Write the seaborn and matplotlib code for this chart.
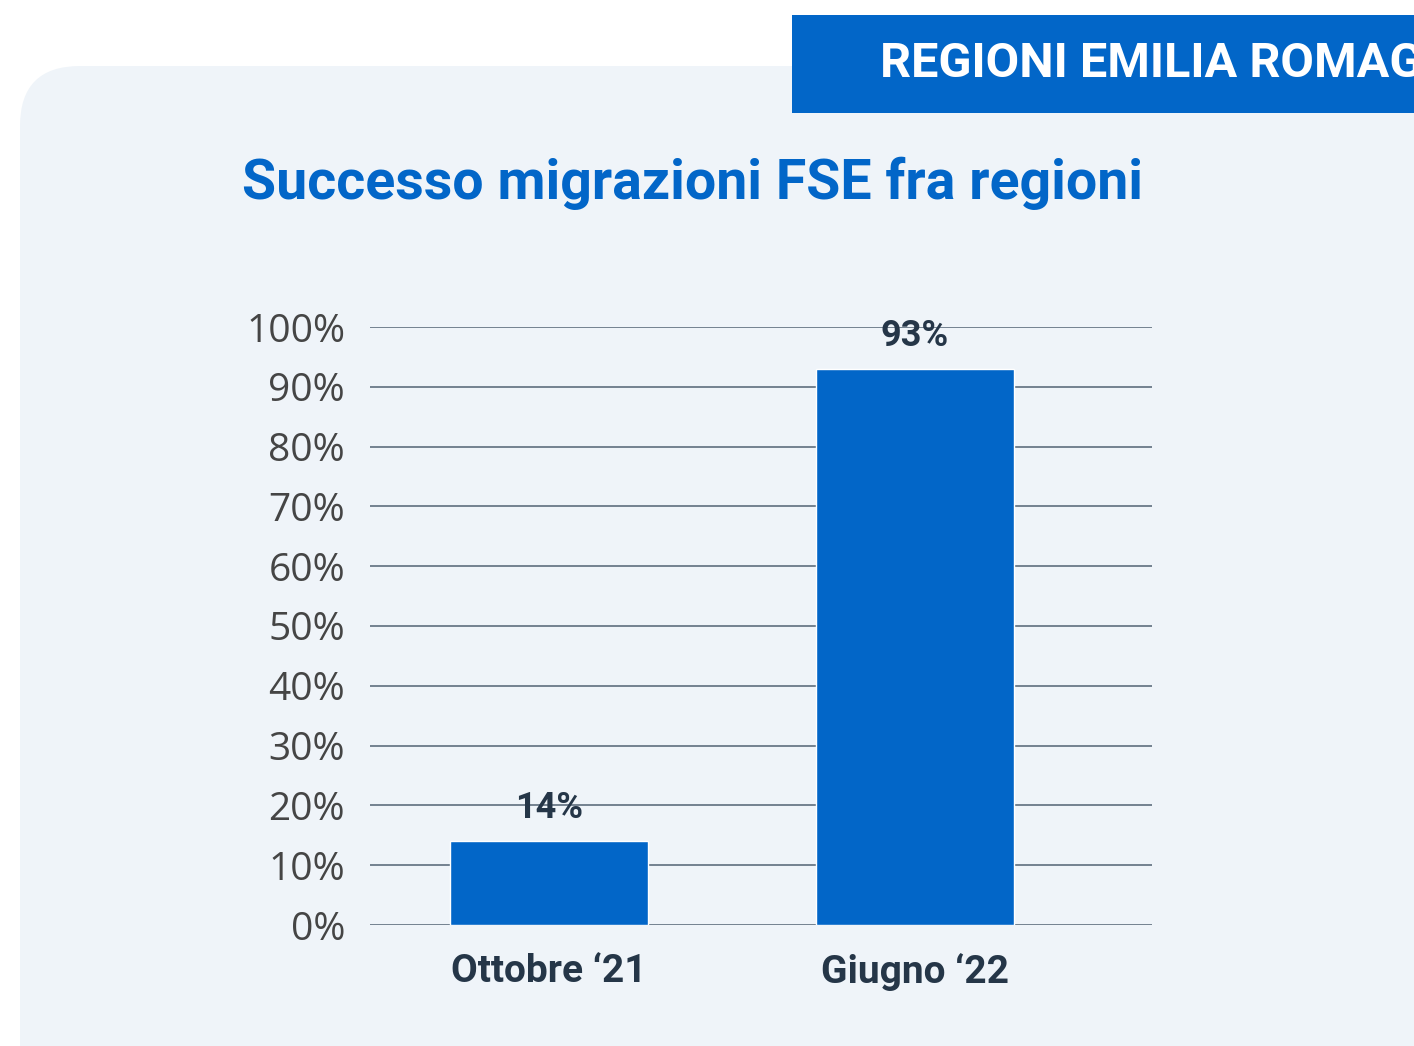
import matplotlib
matplotlib.use("Agg")
import matplotlib.pyplot as plt
import seaborn as sns
import pandas as pd
from matplotlib.patches import FancyBboxPatch, Rectangle

# data
categories = ["Ottobre \u201821", "Giugno \u201822"]
values = [14, 93]
value_labels = ["14%", "93%"]
yticks = [0, 10, 20, 30, 40, 50, 60, 70, 80, 90, 100]

BLUE = "#0266c8"
PANEL = "#eff4f9"
DARK = "#253648"

sns.set_theme(style="white")
plt.rcParams["font.family"] = ["Open Sans", "DejaVu Sans"]
bold_font = ["Roboto", "DejaVu Sans"]

W, H = 1414, 1046
fig = plt.figure(figsize=(W / 100, H / 100), dpi=100)
fig.patch.set_facecolor("white")

# background layer in pixel units
bg = fig.add_axes([0, 0, 1, 1])
bg.set_xlim(0, W)
bg.set_ylim(H, 0)
bg.axis("off")
bg.add_patch(FancyBboxPatch((20, 66), 1500, 1100,
                            boxstyle="round,pad=0,rounding_size=60",
                            facecolor=PANEL, edgecolor="none"))
bg.add_patch(Rectangle((792, 15), 700, 98, facecolor=BLUE, edgecolor="none"))
bg.text(880, 64, "REGIONI EMILIA ROMAGNA", color="white", fontsize=35,
        fontweight="bold", va="center", ha="left", family=bold_font,
        clip_on=True)
bg.text(693, 183, "Successo migrazioni FSE fra regioni", color=BLUE, fontsize=40,
        fontweight="bold", va="center", ha="center", family=bold_font)

# chart
ax = fig.add_axes([370 / W, 121 / H, (1152 - 370) / W, (925 - 327) / H])
ax.set_facecolor("none")
df = pd.DataFrame({"periodo": categories, "valore": values})
sns.barplot(data=df, x="periodo", y="valore", color=BLUE, saturation=1,
            width=0.54, ax=ax, zorder=3)
ax.set_xlim(-0.489, 1.648)
ax.set_ylim(0, 100)
ax.set_yticks(yticks)
ax.set_yticklabels([f"{t}%" for t in yticks], fontsize=28, color="#454545")
ax.set_xticks([0, 1])
ax.set_xticklabels(categories, fontsize=28, fontweight="bold", color=DARK,
                   family=bold_font)
ax.tick_params(axis="y", length=0, pad=18)
ax.tick_params(axis="x", length=0, pad=20)
for t in yticks:
    ax.axhline(t, color="#6a7888", linewidth=1.3, zorder=1)
for s in ax.spines.values():
    s.set_visible(False)
ax.set_xlabel("")
ax.set_ylabel("")

for i, (v, lab) in enumerate(zip(values, value_labels)):
    ax.annotate(lab, (i, v), xytext=(0, 11), textcoords="offset points",
                ha="center", va="bottom", fontsize=26, fontweight="bold",
                color=DARK, family=bold_font)

fig.savefig("out.png", dpi=100, facecolor="white")
